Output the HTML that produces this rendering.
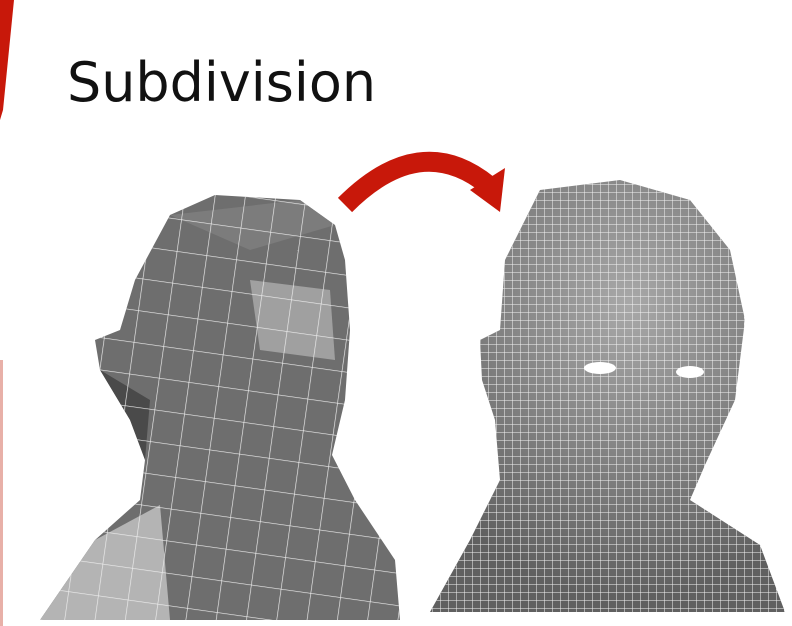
<!DOCTYPE html>
<html><head><meta charset="utf-8"><style>
html,body{margin:0;padding:0;background:#fff;width:792px;height:626px;overflow:hidden}
svg{display:block}
</style></head><body>
<svg width="792" height="626" viewBox="0 0 792 626">
<defs>
<pattern id="grid" width="8" height="8" patternUnits="userSpaceOnUse"><path d="M0 0H8M0 0V8" stroke="#f4f4f4" stroke-width="1" fill="none"/></pattern>
<pattern id="grid2" width="30" height="32" patternUnits="userSpaceOnUse" patternTransform="rotate(8)"><path d="M0 0H30M0 0V32" stroke="#eee" stroke-width="1.3" fill="none"/></pattern>
<radialGradient id="shine" cx="0.55" cy="0.3" r="0.65"><stop offset="0" stop-color="#a8a8a8"/><stop offset="1" stop-color="#606060"/></radialGradient>
<clipPath id="rh"><path d="M540 190L620 180L690 200L730 250L745 320L735 400L705 465L690 500L760 545L785 612L430 612L470 540L500 480L495 420L482 380L480 340L500 330L505 260Z"/></clipPath>
<clipPath id="lh"><path d="M215 195L300 200L335 225L345 260L350 330L345 400L332 455L355 500L395 560L400 620L40 620L95 540L140 500L145 460L130 420L100 370L95 340L120 330L135 280L170 215Z"/></clipPath>
</defs>
<path d="M0 0H14L3 110L0 120Z" fill="#c8180a"/>
<rect x="0" y="360" width="3" height="266" fill="#e8b0a8"/>
<text x="67" y="101" font-family="'DejaVu Sans','Liberation Sans',sans-serif" font-size="54" textLength="309" lengthAdjust="spacingAndGlyphs" fill="#111">Subdivision</text>
<g>
<g clip-path="url(#lh)">
<rect x="30" y="180" width="380" height="450" fill="#6e6e6e"/>
<path d="M40 620L95 540L160 505L170 620Z" fill="#b4b4b4"/>
<path d="M250 280L330 290L335 360L260 350Z" fill="#a0a0a0"/>
<path d="M170 215L300 200L335 225L250 250Z" fill="#7c7c7c"/>
<path d="M100 370L150 400L145 460L130 420Z" fill="#4a4a4a"/>
<rect x="30" y="180" width="380" height="450" fill="url(#grid2)"/>
</g>
</g>
<g>
<g clip-path="url(#rh)">
<rect x="420" y="170" width="380" height="450" fill="url(#shine)"/>
<rect x="420" y="170" width="380" height="450" fill="url(#grid)"/>
<ellipse cx="600" cy="368" rx="16" ry="6" fill="#fff"/>
<ellipse cx="690" cy="372" rx="14" ry="6" fill="#fff"/>
</g>
</g>
<g>
<path d="M345 205Q420 130 488 185" stroke="#c8180a" stroke-width="20" fill="none"/>
<path d="M470 190L505 168L500 212Z" fill="#c8180a"/>
</g>
</svg>
</body></html>
